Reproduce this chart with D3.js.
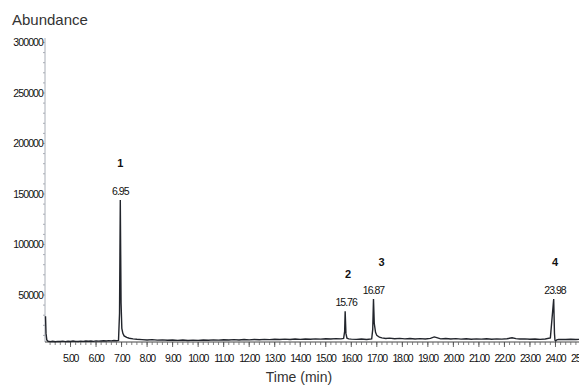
<!DOCTYPE html>
<html><head><meta charset="utf-8">
<script src="https://cdn.jsdelivr.net/npm/d3@7"></script>
<style>
body{margin:0;background:#fff;}
svg{display:block;font-family:"Liberation Sans",Arial,sans-serif;}
</style></head>
<body><svg id="c" width="579" height="386"></svg>
<script>
// Trace (retention time in min, abundance)
const times = [4.02,4.04,4.07,4.12,4.2,4.3,4.4,4.5,4.6,4.7,4.8,4.9,5.0,5.1,5.2,5.3,5.4,5.5,5.6,5.7,5.8,5.9,6.0,6.1,6.2,6.3,6.4,6.5,6.6,6.7,6.8,6.88,6.92,6.95,6.98,7.01,7.05,7.1,7.2,7.3,7.45,7.6,7.8,8.0,8.2,8.4,8.6,8.8,9.0,9.2,9.4,9.6,9.8,10.0,10.2,10.4,10.6,10.8,11.0,11.2,11.4,11.6,11.8,12.0,12.2,12.4,12.6,12.8,13.0,13.2,13.4,13.6,13.8,14.0,14.2,14.4,14.6,14.8,15.0,15.2,15.4,15.6,15.7,15.74,15.76,15.79,15.83,15.9,16.0,16.2,16.4,16.6,16.8,16.84,16.87,16.9,16.95,17.0,17.1,17.2,17.35,17.5,17.7,17.9,18.1,18.3,18.5,18.7,18.9,19.1,19.25,19.35,19.5,19.7,19.9,20.1,20.3,20.5,20.7,20.9,21.1,21.3,21.5,21.7,21.9,22.1,22.3,22.45,22.6,22.8,23.0,23.2,23.4,23.6,23.8,23.93,23.96,23.98,24.01,24.05,24.12,24.2,24.4,24.6,24.8,25.0,25.2];
const abundance = [29000,12000,5500,4200,3800,4200,3700,4100,3900,4300,3800,4200,4000,4400,4100,3900,4300,4100,4500,4200,4400,4100,4600,4300,4500,4700,4400,4800,4600,4900,4700,5000,32000,144000,42000,17000,12000,9500,8000,7200,6600,6200,5800,5500,5800,5300,5600,5200,5500,5100,5400,5000,5300,5100,5500,5200,5600,5300,5700,5400,5800,5500,5900,5600,6000,5700,6100,5800,6200,5900,6300,6000,6400,6100,6500,6200,6600,6300,6700,6400,6800,6600,7000,14000,34000,12000,7200,6500,6300,6100,6400,6000,6600,16000,46000,22000,13000,10000,8200,7600,7000,7300,6700,7100,6600,6900,6500,6800,6400,7000,8500,7800,6600,6900,6400,6800,6300,6700,6200,6600,6300,6700,6200,6600,6300,6700,7600,6800,6400,6600,6200,6500,6100,6400,7500,46000,12000,5200,4400,5600,5900,6100,5900,6200,6000,6100];

// Peak annotations
const peakNums = ["1","2","3","4"];
const peakTimes = [6.95,15.76,16.87,23.98];
const peakTops = [144000,34000,46000,46000];

// Axis ticks
const yTicks = [50000,100000,150000,200000,250000,300000];
const xTicks = [5,6,7,8,9,10,11,12,13,14,15,16,17,18,19,20,21,22,23,24,25];

const svg = d3.select("#c");
const x = d3.scaleLinear().domain([4.0,25.0]).range([45,581]);
const y = d3.scaleLinear().domain([0,300000]).range([345.5,42.5]);
const axisY = 342;

// Y axis
const gy = svg.append("g").attr("transform","translate(45,0)");
gy.append("line").attr("x1",0).attr("x2",0).attr("y1",38).attr("y2",axisY)
  .attr("stroke","#a8adb6").attr("stroke-width",1);
const yMinor = d3.range(10000,300001,10000);
gy.selectAll("line.mn").data(yMinor).join("line").attr("class","mn")
  .attr("x1",-2).attr("x2",0).attr("y1",d=>y(d)).attr("y2",d=>y(d))
  .attr("stroke","#a8adb6");
gy.selectAll("text").data(yTicks).join("text")
  .attr("x",-2).attr("y",d=>y(d)).attr("dy","0.35em")
  .attr("text-anchor","end").attr("font-size",10.5).attr("letter-spacing","-0.9px")
  .attr("fill","#111").text(d=>d);

// X axis
const gx = svg.append("g").attr("transform",`translate(0,${axisY})`);
gx.append("line").attr("x1",45).attr("x2",579).attr("y1",0).attr("y2",0)
  .attr("stroke","#444").attr("stroke-width",1);
const xMinor = d3.range(4.2,25.2,0.2);
gx.selectAll("line.mn").data(xMinor).join("line").attr("class","mn")
  .attr("x1",d=>x(d)).attr("x2",d=>x(d)).attr("y1",0).attr("y2",3)
  .attr("stroke","#666").attr("stroke-width",0.8);
gx.selectAll("line.mj").data(xTicks).join("line").attr("class","mj")
  .attr("x1",d=>x(d)).attr("x2",d=>x(d)).attr("y1",0).attr("y2",5)
  .attr("stroke","#444").attr("stroke-width",0.8);
gx.selectAll("text").data(xTicks).join("text")
  .attr("x",d=>x(d)).attr("y",16).attr("dy","0.35em")
  .attr("text-anchor","middle").attr("font-size",10.5).attr("letter-spacing","-1.3px")
  .attr("fill","#111").text(d=>d.toFixed(2));

// Trace
const pts = times.map((t,i)=>[t,abundance[i]]);
svg.append("path").datum(pts)
  .attr("fill","none").attr("stroke","#22252c").attr("stroke-width",1.4)
  .attr("d",d3.line().x(d=>x(d[0])).y(d=>y(d[1])));

// Peak labels
const pg = svg.append("g");
peakNums.forEach((n,i)=>{
  const px = x(peakTimes[i]), py = y(peakTops[i]);
  pg.append("text").attr("x",px + (n==="3"?8:(n==="2"?3:0))).attr("y",py-37).attr("dy","0.35em")
    .attr("text-anchor","middle").attr("font-size",11).attr("font-weight","bold")
    .attr("fill","#111").text(n);
  pg.append("text").attr("x",px+(n==="2"?1:0)).attr("y",py-9).attr("dy","0.35em")
    .attr("text-anchor","middle").attr("font-size",10.5).attr("letter-spacing","-1px")
    .attr("fill","#111").text(peakTimes[i].toFixed(2));
});

// Titles
svg.append("text").attr("x",12).attr("y",20).attr("dy","0.35em")
  .attr("font-size",15).attr("fill","#333").text("Abundance");
svg.append("text").attr("x",299).attr("y",377).attr("dy","0.35em")
  .attr("text-anchor","middle").attr("font-size",14).attr("fill","#333").text("Time (min)");
</script></body></html>
